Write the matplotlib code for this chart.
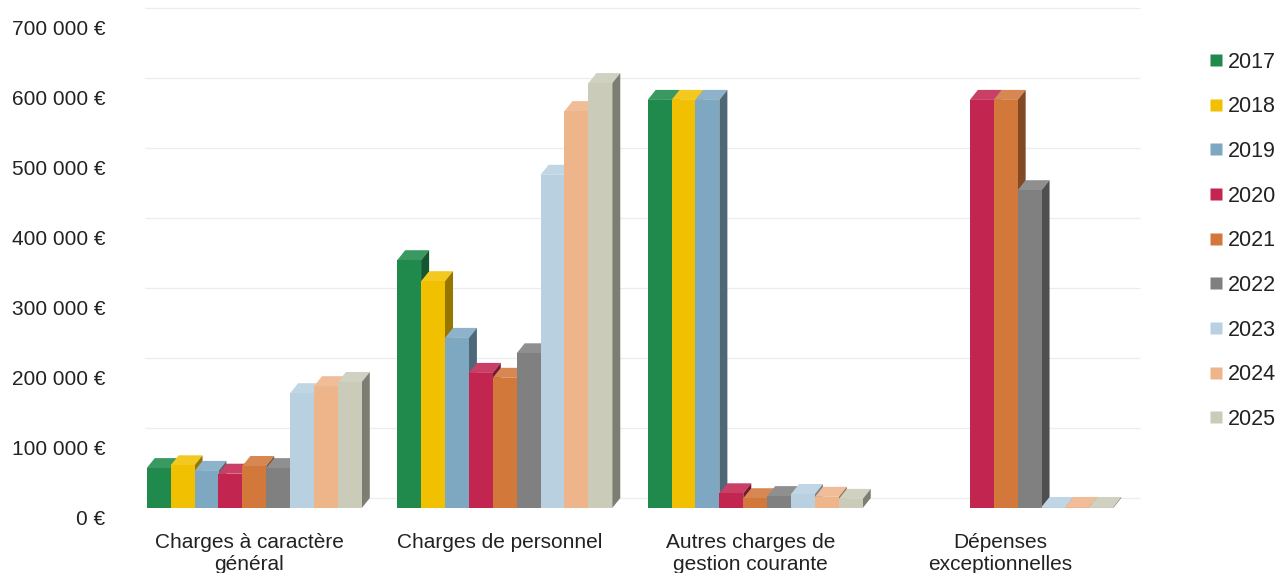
import numpy as np
import matplotlib
matplotlib.use('Agg')
import matplotlib.pyplot as plt
import matplotlib.transforms as mtransforms
from matplotlib.patches import Polygon
from matplotlib.lines import Line2D
from matplotlib.colors import to_rgb

plt.rcParams['font.family'] = ['Liberation Sans', 'DejaVu Sans']

categories = ['Charges à caractère\ngénéral', 'Charges de personnel',
              'Autres charges de\ngestion courante', 'Dépenses\nexceptionnelles']
years = ['2017', '2018', '2019', '2020', '2021', '2022', '2023', '2024', '2025']
colors = ['#1f8a4c', '#f1c000', '#7ea8c2', '#c22550', '#d2783a',
          '#808080', '#b9d0e1', '#eeb48a', '#cacbb9']

# one list per year, values for the 4 categories
v2017 = [57000, 354000, 583000, 0]
v2018 = [61000, 324000, 583000, 0]
v2019 = [53000, 243000, 583000, 0]
v2020 = [49000, 193000, 21000, 583000]
v2021 = [60000, 186000, 14000, 583000]
v2022 = [57000, 221000, 17000, 454000]
v2023 = [164000, 476000, 20000, 1500]
v2024 = [174000, 567000, 16000, 1500]
v2025 = [180000, 607000, 13000, 1500]
values = [v2017, v2018, v2019, v2020, v2021, v2022, v2023, v2024, v2025]

yticks = [0, 100000, 200000, 300000, 400000, 500000, 600000, 700000]
ytick_labels = ['0 €', '100 000 €', '200 000 €', '300 000 €', '400 000 €',
                '500 000 €', '600 000 €', '700 000 €']


def shade(c, f):
    r, g, b = to_rgb(c)
    if f > 1:
        return tuple(x + (1 - x) * (f - 1) for x in (r, g, b))
    return tuple(x * f for x in (r, g, b))


fig = plt.figure(figsize=(12.85, 5.73), dpi=100)
ax = fig.add_axes([0.1004, 0.1134, 0.7953, 0.8796])
ax.set_xlim(-0.5, 3.58)
ax.set_ylim(0, 720000)

w = 0.0954          # bar width
dx = 0.032          # depth in x (category units)
dy = 14300          # depth in y (value units)
x = np.arange(len(categories))

# back-wall gridlines
for t in yticks:
    ax.hlines(t + dy, -0.5 + dx + 0.03, 3.537, color='#ececec', lw=0.9, zorder=0)

z = 1
for c in range(len(categories)):
    for i, yr in enumerate(years):
        v = values[i][c]
        if v == 0:
            continue
        x0 = x[c] - 4.5 * w + i * w
        x1 = x0 + w
        top = Polygon([(x0, v), (x1, v), (x1 + dx, v + dy), (x0 + dx, v + dy)],
                      closed=True, facecolor=shade(colors[i], 1.12), edgecolor='none', zorder=z)
        side = Polygon([(x1, 0), (x1 + dx, dy), (x1 + dx, v + dy), (x1, v)],
                       closed=True, facecolor=shade(colors[i], 0.62), edgecolor='none', zorder=z)
        ax.add_patch(top)
        ax.add_patch(side)
        ax.bar(x0, v, width=w, align='edge', color=colors[i], zorder=z + 0.5, linewidth=0)
        z += 1

for s in ax.spines.values():
    s.set_visible(False)

ax.set_yticks(yticks)
ax.set_yticklabels(ytick_labels, fontsize=15, color='#222222')
ax.tick_params(axis='y', length=0, pad=17)
off = mtransforms.ScaledTranslation(0, -9 / 100, fig.dpi_scale_trans)
for lab in ax.get_yticklabels():
    lab.set_transform(lab.get_transform() + off)

ax.set_xticks(x - 0.02)
ax.set_xticklabels(categories, fontsize=15, color='#222222', linespacing=1.2)
ax.tick_params(axis='x', length=0, pad=18)

handles = [Line2D([0], [0], marker='s', linestyle='none', markersize=9,
                  markerfacecolor=col, markeredgecolor='none') for col in colors]
ax.legend(handles, years, loc='upper left', bbox_to_anchor=(0.9345, 0.925),
          bbox_transform=fig.transFigure, frameon=False, fontsize=15.5,
          handlelength=0.6, handletextpad=0.25, labelspacing=1.1,
          borderaxespad=0, labelcolor='#222222')

fig.savefig('out.png', dpi=100)
